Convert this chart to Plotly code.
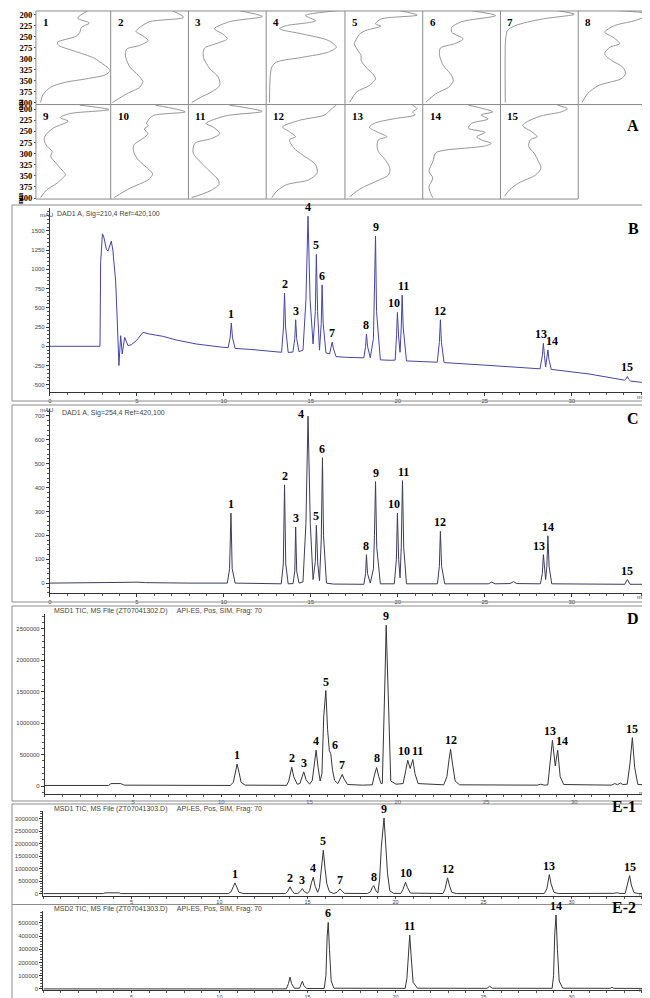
import plotly.graph_objects as go

FIG_W, FIG_H = 650, 998

# ---------------- Panel A : UV spectra (wavelength nm, relative absorbance) ----------------
s1_wl = [191, 208, 219, 229, 240, 249, 263, 270, 282, 299, 306, 323, 329, 337, 346, 355, 365, 383, 400]
s1_ab = [0.70, 0.56, 0.72, 0.61, 0.59, 0.54, 0.28, 0.30, 0.50, 0.79, 0.85, 0.99, 1.0, 0.94, 0.68, 0.36, 0.19, 0.08, 0.05]
s2_wl = [191, 206, 216, 229, 238, 248, 259, 270, 278, 289, 300, 319, 338, 352, 365, 380, 400]
s2_ab = [0.80, 0.95, 0.50, 0.37, 0.32, 0.41, 0.48, 0.37, 0.20, 0.18, 0.19, 0.24, 0.35, 0.41, 0.37, 0.20, 0.01]
s3_wl = [191, 204, 216, 232, 244, 255, 266, 276, 289, 300, 323, 342, 361, 376, 387, 400]
s3_ab = [0.66, 0.96, 0.53, 0.33, 0.44, 0.50, 0.35, 0.20, 0.18, 0.19, 0.27, 0.38, 0.40, 0.29, 0.16, 0.03]
s4_wl = [191, 202, 214, 225, 232, 244, 259, 274, 285, 297, 308, 319, 338, 400]
s4_ab = [0.92, 0.50, 0.63, 0.25, 0.16, 0.46, 0.80, 0.90, 0.80, 0.46, 0.12, 0.06, 0.04, 0.03]
s5_wl = [191, 201, 210, 221, 226, 236, 244, 255, 266, 282, 293, 304, 319, 338, 346, 361, 376, 399]
s5_ab = [0.71, 0.94, 0.46, 0.39, 0.46, 0.26, 0.18, 0.14, 0.11, 0.16, 0.20, 0.20, 0.26, 0.37, 0.39, 0.31, 0.14, 0.05]
s6_wl = [191, 202, 216, 229, 240, 255, 266, 276, 293, 316, 334, 350, 365, 380, 399]
s6_ab = [0.63, 0.95, 0.50, 0.37, 0.37, 0.52, 0.41, 0.22, 0.21, 0.26, 0.35, 0.39, 0.33, 0.16, 0.03]
s7_wl = [191, 199, 210, 225, 236, 248, 270, 400]
s7_ab = [0.74, 0.96, 0.53, 0.18, 0.08, 0.06, 0.05, 0.05]
s8_wl = [191, 199, 214, 225, 240, 251, 266, 274, 289, 304, 319, 334, 346, 361, 380, 399]
s8_ab = [0.52, 0.95, 0.73, 0.47, 0.34, 0.45, 0.54, 0.41, 0.34, 0.43, 0.58, 0.62, 0.56, 0.26, 0.11, 0.04]
s9_wl = [191, 201, 210, 219, 227, 242, 258, 269, 284, 295, 306, 325, 340, 347, 366, 381, 399]
s9_ab = [0.59, 0.99, 0.45, 0.32, 0.43, 0.23, 0.12, 0.10, 0.14, 0.21, 0.19, 0.28, 0.36, 0.39, 0.28, 0.14, 0.05]
s10_wl = [191, 206, 215, 232, 237, 245, 255, 266, 281, 296, 314, 337, 346, 359, 378, 399]
s10_ab = [0.58, 0.97, 0.54, 0.46, 0.48, 0.43, 0.48, 0.41, 0.29, 0.29, 0.35, 0.50, 0.54, 0.48, 0.24, 0.03]
s11_wl = [191, 205, 215, 232, 240, 255, 266, 277, 299, 318, 340, 359, 369, 384, 399]
s11_ab = [0.53, 0.96, 0.48, 0.22, 0.31, 0.40, 0.29, 0.07, 0.05, 0.14, 0.27, 0.38, 0.39, 0.27, 0.03]
s12_wl = [191, 202, 213, 225, 240, 251, 262, 269, 288, 303, 325, 344, 359, 370, 385, 399]
s12_ab = [0.90, 0.82, 0.75, 0.42, 0.20, 0.29, 0.37, 0.29, 0.35, 0.46, 0.63, 0.65, 0.54, 0.25, 0.12, 0.06]
s13_wl = [191, 199, 206, 213, 221, 232, 241, 251, 262, 269, 281, 296, 314, 333, 348, 363, 378, 397]
s13_ab = [0.88, 0.94, 0.88, 0.91, 0.65, 0.37, 0.31, 0.41, 0.54, 0.43, 0.41, 0.43, 0.52, 0.58, 0.56, 0.39, 0.20, 0.05]
s14_wl = [191, 206, 213, 222, 232, 243, 252, 262, 269, 277, 283, 292, 298, 318, 340, 355, 374, 389, 399]
s14_ab = [0.59, 0.91, 0.76, 0.85, 0.63, 0.59, 0.81, 0.70, 0.76, 0.89, 0.80, 0.29, 0.16, 0.12, 0.07, 0.12, 0.07, 0.09, 0.12]
s15_wl = [191, 199, 206, 215, 228, 237, 251, 262, 269, 284, 299, 318, 333, 348, 366, 381, 396]
s15_ab = [0.74, 0.87, 0.79, 0.53, 0.34, 0.28, 0.40, 0.47, 0.38, 0.36, 0.43, 0.49, 0.52, 0.45, 0.23, 0.11, 0.04]
wl_ticks = [200, 225, 250, 275, 300, 325, 350, 375, 400]

# ---------------- Panel B : DAD 210 nm (min, mAU) ----------------
b_time = [0, 2.88, 2.92, 3.02, 3.1, 3.25, 3.34, 3.45, 3.53, 3.62,
          3.72, 3.78, 3.86, 3.93, 3.97, 4.02, 4.07, 4.16, 4.3, 4.49,
          4.68, 4.97, 5.35, 5.73, 6.49, 7.26, 8.41, 9.93, 10.25, 10.36,
          10.43, 10.5, 10.65, 11.5, 12.5, 13.32, 13.43, 13.49, 13.55, 13.7,
          13.97, 14.08, 14.13, 14.19, 14.32, 14.55, 14.72, 14.84, 14.96, 15.13,
          15.26, 15.32, 15.39, 15.5, 15.6, 15.65, 15.71, 15.87, 16.08, 16.18,
          16.23, 16.29, 16.45, 17.2, 18.05, 18.15, 18.2, 18.26, 18.42, 18.6,
          18.66, 18.72, 18.78, 19.0, 19.6, 19.85, 19.93, 19.98, 20.05, 20.13,
          20.2, 20.25, 20.31, 20.5, 21.5, 22.27, 22.39, 22.45, 22.51, 22.66,
          25.0, 28.18, 28.31, 28.37, 28.43, 28.5, 28.57, 28.63, 28.69, 28.82,
          31.0, 33.03, 33.14, 33.2, 33.26, 33.38, 34.73]
b_mau = [0, 0, 1100, 1461, 1420, 1260, 1237, 1330, 1366, 1250,
         1000, 849, 418, -99, -250, -50, 138, -99, 116, 9,
         20, 73, 181, 159, 130, 82, 30, -13, -18, 110,
         302, 110, -28, -40, -60, -78, 250, 690, 250, -80,
         -75, 100, 345, 100, -70, -50, 600, 1690, 600, 30,
         450, 1194, 450, -50, 300, 798, 300, -85, -100, -20,
         55, -20, -135, -145, -150, 0, 160, 0, -150, 100,
         720, 1431, 450, -177, -182, -180, 150, 440, 120, -78,
         250, 664, 250, -190, -200, -207, 50, 345, 50, -212,
         -245, -293, -120, 39, -120, -270, -150, -47, -170, -300,
         -360, -440, -420, -392, -425, -452, -487]
b_yticks = [-500, -250, 0, 250, 500, 750, 1000, 1250, 1500]
b_pk_id = ["1", "2", "3", "4", "5", "6", "7", "8", "9", "10", "11", "12", "13", "14", "15"]
b_pk_t = [10.43, 13.49, 14.13, 14.84, 15.32, 15.65, 16.23, 18.2, 18.72, 19.98, 20.25, 22.45, 28.37, 28.63, 33.2]
b_pk_y = [302, 690, 345, 1690, 1194, 798, 55, 160, 1431, 440, 664, 345, 39, -47, -392]

# ---------------- Panel C : DAD 254 nm (min, mAU) ----------------
c_time = [0, 3.5, 4.2, 5.0, 5.5, 8.0, 10.2, 10.33, 10.41, 10.48,
          10.65, 13.3, 13.42, 13.49, 13.56, 13.7, 13.98, 14.08, 14.13, 14.19,
          14.32, 14.55, 14.72, 14.84, 14.97, 15.13, 15.26, 15.32, 15.4, 15.5,
          15.6, 15.67, 15.73, 15.9, 16.3, 18.05, 18.15, 18.2, 18.26, 18.42,
          18.6, 18.66, 18.72, 18.79, 19.0, 19.8, 19.92, 19.98, 20.05, 20.13,
          20.2, 20.27, 20.34, 20.5, 22.28, 22.39, 22.45, 22.52, 22.7, 25.2,
          25.4, 25.6, 26.45, 26.65, 26.85, 28.2, 28.31, 28.37, 28.44, 28.5,
          28.57, 28.63, 28.7, 28.85, 33.05, 33.2, 33.35, 34.05, 34.2, 34.35,
          34.73]
c_mau = [0, 0, 3, 4, 2, 0, 0, 60, 293, 60,
         0, -3, 80, 411, 80, -3, -2, 50, 235, 50,
         0, 5, 250, 699, 250, 15, 90, 242, 80, 10,
         180, 525, 200, 0, -4, -5, 40, 119, 40, 0,
         60, 200, 425, 150, -3, -3, 100, 293, 100, 22,
         150, 429, 150, -3, -3, 70, 217, 70, -3, -3,
         4, -3, -2, 6, -2, -3, 40, 119, 40, 15,
         70, 198, 70, -3, -5, 15, -5, -5, 5, -5,
         -6]
c_yticks = [0, 100, 200, 300, 400, 500, 600, 700]
c_pk_id = ["1", "2", "3", "4", "5", "6", "8", "9", "10", "11", "12", "13", "14", "15"]
c_pk_t = [10.41, 13.49, 14.13, 14.84, 15.32, 15.67, 18.2, 18.72, 19.98, 20.27, 22.45, 28.37, 28.63, 33.2]
c_pk_y = [293, 411, 235, 699, 242, 525, 119, 425, 293, 429, 217, 119, 198, 15]

# ---------------- Panel D : MSD1 TIC (min, counts) ----------------
d_time = [0, 3.6, 3.75, 4.3, 4.5, 10.5, 10.68, 10.78, 10.89, 11.0,
          11.12, 11.35, 13.7, 13.82, 13.9, 13.99, 14.1, 14.3, 14.45, 14.55,
          14.67, 14.8, 15.0, 15.15, 15.27, 15.37, 15.48, 15.6, 15.7, 15.8,
          15.92, 16.02, 16.12, 16.2, 16.3, 16.42, 16.6, 16.75, 16.85, 16.96,
          17.15, 18.0, 18.55, 18.68, 18.8, 18.92, 19.05, 19.12, 19.2, 19.28,
          19.34, 19.42, 19.5, 19.6, 19.9, 20.3, 20.45, 20.56, 20.7, 20.85,
          20.97, 21.15, 22.6, 22.78, 22.9, 22.99, 23.1, 23.25, 23.5, 27.9,
          28.1, 28.3, 28.5, 28.62, 28.76, 28.92, 29.06, 29.2, 29.4, 32.1,
          32.3, 32.45, 32.6, 32.75, 33.0, 33.15, 33.29, 33.42, 33.6, 34.63]
d_tic = [10000, 10000, 40000, 40000, 15000, 10000, 60000, 220000, 350000, 220000,
         60000, 15000, 12000, 80000, 200000, 300000, 150000, 30000, 40000, 130000,
         227000, 100000, 30000, 90000, 380000, 570000, 300000, 80000, 200000, 1100000,
         1519000, 900000, 560000, 517000, 250000, 90000, 40000, 120000, 185000, 110000,
         25000, 15000, 20000, 180000, 296000, 150000, 40000, 40000, 800000, 1800000,
         2558000, 1700000, 700000, 80000, 30000, 40000, 250000, 411000, 280000, 422000,
         200000, 40000, 20000, 150000, 420000, 585000, 350000, 80000, 20000, 15000,
         30000, 15000, 20000, 350000, 728000, 321000, 570000, 150000, 25000, 15000,
         40000, 20000, 50000, 25000, 30000, 350000, 770000, 300000, 25000, 15000]
d_yticks = [0, 500000, 1000000, 1500000, 2000000, 2500000]
d_pk_id = ["1", "2", "3", "4", "5", "6", "7", "8", "9", "10", "11", "12", "13", "14", "15"]
d_pk_t = [10.89, 13.99, 14.67, 15.37, 15.92, 16.2, 16.85, 18.8, 19.34, 20.56, 20.85, 22.99, 28.76, 29.06, 33.29]
d_pk_y = [350000, 300000, 227000, 570000, 1519000, 517000, 185000, 296000, 2558000, 411000, 422000, 585000, 728000, 570000, 770000]

# ---------------- Panel E-1 : MSD1 TIC (min, counts) ----------------
e1_time = [0, 3.4, 3.5, 4.3, 4.4, 10.5, 10.66, 10.77, 10.88, 10.99,
           11.1, 11.35, 13.75, 13.86, 13.93, 14.01, 14.1, 14.25, 14.45, 14.58,
           14.71, 14.82, 15.0, 15.12, 15.23, 15.33, 15.44, 15.58, 15.68, 15.8,
           15.9, 16.0, 16.1, 16.25, 16.5, 16.68, 16.77, 16.85, 16.95, 17.1,
           18.4, 18.58, 18.68, 18.77, 18.87, 19.0, 19.1, 19.2, 19.35, 19.45,
           19.55, 19.68, 19.9, 20.3, 20.43, 20.57, 20.68, 20.85, 22.7, 22.82,
           22.9, 22.96, 23.06, 23.2, 23.45, 28.45, 28.6, 28.68, 28.74, 28.84,
           29.0, 29.25, 32.0, 32.2, 32.4, 32.6, 32.75, 33.05, 33.18, 33.3,
           33.4, 33.55, 33.8, 34.8]
e1_tic = [10000, 10000, 40000, 40000, 10000, 10000, 80000, 280000, 438000, 270000,
          70000, 12000, 10000, 80000, 180000, 279000, 150000, 20000, 15000, 90000,
          211000, 90000, 20000, 120000, 450000, 661000, 300000, 60000, 250000, 1200000,
          1737000, 1000000, 400000, 80000, 15000, 60000, 150000, 199000, 120000, 20000,
          12000, 80000, 250000, 331000, 150000, 30000, 600000, 1900000, 3028000, 2000000,
          800000, 120000, 20000, 15000, 180000, 462000, 250000, 30000, 12000, 200000,
          480000, 637000, 350000, 60000, 12000, 12000, 200000, 600000, 769000, 400000,
          60000, 12000, 12000, 35000, 20000, 45000, 15000, 20000, 400000, 729000,
          350000, 50000, 12000, 12000]
e1_yticks = [0, 500000, 1000000, 1500000, 2000000, 2500000, 3000000]
e1_pk_id = ["1", "2", "3", "4", "5", "7", "8", "9", "10", "12", "13", "15"]
e1_pk_t = [10.88, 14.01, 14.71, 15.33, 15.9, 16.85, 18.77, 19.35, 20.57, 22.96, 28.74, 33.3]
e1_pk_y = [438000, 279000, 211000, 661000, 1737000, 199000, 331000, 3028000, 462000, 637000, 769000, 729000]

# ---------------- Panel E-2 : MSD2 TIC (min, counts) ----------------
e2_time = [0, 3.4, 3.5, 4.3, 4.4, 13.8, 13.92, 14.01, 14.1, 14.25,
           14.55, 14.64, 14.71, 14.8, 14.95, 15.95, 16.05, 16.12, 16.18, 16.25,
           16.35, 16.5, 20.55, 20.65, 20.73, 20.81, 20.89, 21.0, 21.25, 25.2,
           25.35, 25.5, 28.9, 28.98, 29.05, 29.12, 29.2, 29.3, 29.5, 32.2,
           32.3, 32.4, 34.8]
e2_tic = [0, 0, 4000, 4000, 0, 0, 40000, 89000, 40000, 5000,
          5000, 30000, 58000, 25000, 3000, 3000, 100000, 400000, 504000, 300000,
          60000, 5000, 4000, 80000, 300000, 408000, 250000, 50000, 5000, 4000,
          20000, 5000, 4000, 100000, 420000, 560000, 300000, 60000, 5000, 4000,
          12000, 4000, 3000]
e2_yticks = [0, 100000, 200000, 300000, 400000, 500000]
e2_pk_id = ["6", "11", "14"]
e2_pk_t = [16.18, 20.81, 29.12]
e2_pk_y = [504000, 408000, 560000]

bc_xticks = [0, 5, 10, 15, 20, 25, 30]
ms_xticks = [5, 10, 15, 20, 25, 30]

# ---------------- helpers (pixel -> paper) ----------------
def px(x):
    return x / FIG_W


def py(y):
    return 1 - y / FIG_H


def axkey(i, k):
    return f"{k}axis" if i == 1 else f"{k}axis{i}"


def aref(i, k):
    return k if i == 1 else f"{k}{i}"


SERIF = "Liberation Serif, Times New Roman, serif"
SANS = "Liberation Sans, Arial, sans-serif"
AXC = "#333333"

fig = go.Figure()
layout = dict(width=FIG_W, height=FIG_H, margin=dict(l=0, r=0, t=0, b=0),
              paper_bgcolor="white", plot_bgcolor="white", showlegend=False)
annotations = []
shapes = []


def chrom_x(dom, rng, ticks, n, tlen, fs):
    return dict(domain=[px(dom[0]), px(dom[1])], range=rng, anchor=aref(n, "y"),
                showline=True, linecolor=AXC, linewidth=1, mirror=False,
                ticks="outside", ticklen=tlen, tickwidth=1, tickcolor=AXC,
                tickvals=ticks, ticktext=[str(v) for v in ticks],
                tickfont=dict(family=SANS, size=fs, color="#444"),
                minor=dict(ticks="outside", ticklen=2, dtick=1, tick0=0, tickcolor="#555"),
                showgrid=False, zeroline=False, fixedrange=True)


def chrom_y(dom, rng, ticks, minor, n):
    return dict(domain=[py(dom[1]), py(dom[0])], range=rng, anchor=aref(n, "x"),
                showline=True, linecolor=AXC, linewidth=1,
                ticks="outside", ticklen=3, tickwidth=1, tickcolor=AXC,
                tickvals=ticks, ticktext=[str(v) for v in ticks],
                tickfont=dict(family=SANS, size=6, color="#444"),
                minor=dict(ticks="outside", ticklen=2, dtick=minor, tick0=0, tickcolor="#555"),
                showgrid=False, zeroline=False, fixedrange=True)


panels = [
    (1, b_time, b_mau, (40, 646), (200, 385), [0, 34.73], [-595, 1797], b_yticks, 50, bc_xticks, "#4545a5", 3, 6,
     b_pk_id, b_pk_t, b_pk_y, [0, 0, 0, 0, 0, 0, 0, 0, 0, -3, 1, 0, -2, 4, 0], [0] * 15),
    (2, c_time, c_mau, (40, 646), (402, 587), [0, 34.73], [-41.7, 729], c_yticks, 20, bc_xticks, "#3c3c5c", 3, 6,
     c_pk_id, c_pk_t, c_pk_y, [0, 0, 0, -7, 0, 0, 0, 0, -3, 1, 0, -4, 0, 0], [0, 0, 0, -7, 0, 0, 0, 0, 0, 0, 0, 0, 0, 0]),
    (3, d_time, d_tic, (35, 648), (608, 789), [0, 34.63], [-126600, 2737000], d_yticks, 100000, ms_xticks, "#363636", 2, 6,
     d_pk_id, d_pk_t, d_pk_y, [0, 0, 0, 0, 0, 4, 0, 0, 0, -4, 5, 0, -2, 4, 0], [0] * 15),
    (4, e1_time, e1_tic, (33.5, 648), (806, 891), [0, 34.8], [-67700, 3306800], e1_yticks, 100000, ms_xticks, "#363636", 1, 5.5,
     e1_pk_id, e1_pk_t, e1_pk_y, [0] * 12, [0] * 12),
    (5, e2_time, e2_tic, (33.5, 648), (907, 986), [0, 34.8], [-9000, 587000], e2_yticks, 20000, ms_xticks, "#363636", 1, 5.5,
     e2_pk_id, e2_pk_t, e2_pk_y, [0] * 3, [0] * 3),
]

for (n, tt, yy, xd, yd, xr, yr, yt, mn, xt, col, tl, fs, ids, pt, pv, xs, ys) in panels:
    fig.add_trace(go.Scatter(x=tt, y=yy, mode="lines", xaxis=aref(n, "x"), yaxis=aref(n, "y"),
                             line=dict(color=col, width=1), hoverinfo="skip"))
    layout[axkey(n, "x")] = chrom_x(xd, xr, xt, n, tl, fs)
    layout[axkey(n, "y")] = chrom_y(yd, yr, yt, mn, n)
    for lab, t, v, dx, dy in zip(ids, pt, pv, xs, ys):
        annotations.append(dict(x=t, y=v, xref=aref(n, "x"), yref=aref(n, "y"), text=f"<b>{lab}</b>",
                                showarrow=False, yanchor="bottom", xanchor="center", xshift=dx, yshift=dy,
                                font=dict(family=SERIF, size=12, color="black")))

# ---------------- Panel A axes ----------------
spectra = [(s1_wl, s1_ab), (s2_wl, s2_ab), (s3_wl, s3_ab), (s4_wl, s4_ab), (s5_wl, s5_ab),
           (s6_wl, s6_ab), (s7_wl, s7_ab), (s8_wl, s8_ab), (s9_wl, s9_ab), (s10_wl, s10_ab),
           (s11_wl, s11_ab), (s12_wl, s12_ab), (s13_wl, s13_ab), (s14_wl, s14_ab), (s15_wl, s15_ab)]
cell_x = [26, 101, 179, 257, 336, 414, 492, 570, 647]
rows = [(2, 96, [404.5, 191.6]), (96, 191, [402.2, 189.5])]

for k, (wl, ab) in enumerate(spectra):
    n = 6 + k
    row = 0 if k < 8 else 1
    col = k if k < 8 else k - 8
    y0, y1, yrng = rows[row]
    fig.add_trace(go.Scatter(x=ab, y=wl, mode="lines", xaxis=aref(n, "x"), yaxis=aref(n, "y"),
                             line=dict(color="#8a8a8a", width=0.9, shape="spline", smoothing=0.8),
                             hoverinfo="skip"))
    layout[axkey(n, "x")] = dict(domain=[px(cell_x[col] + 1), px(cell_x[col + 1] - 1)], range=[0, 1.0],
                                 anchor=aref(n, "y"), visible=False, fixedrange=True)
    first = (col == 0)
    layout[axkey(n, "y")] = dict(domain=[py(y1), py(y0)], range=yrng, anchor=aref(n, "x"),
                                 showline=False, showgrid=False, zeroline=False, fixedrange=True,
                                 showticklabels=first, ticks="outside" if first else "",
                                 ticklen=2, tickcolor="#555",
                                 tickvals=wl_ticks, ticktext=[str(v) for v in wl_ticks],
                                 tickfont=dict(family=SERIF, size=8.5, color="black", weight="bold"))
    annotations.append(dict(x=px(cell_x[col] + 5), y=py(y0 + 3), xref="paper", yref="paper",
                            text=f"<b>{k + 1}</b>", showarrow=False, xanchor="left", yanchor="top",
                            font=dict(family=SERIF, size=11, color="black")))

# "nm" axis titles
for yy in (89, 183):
    annotations.append(dict(x=px(4), y=py(yy), xref="paper", yref="paper", text="<b>nm</b>",
                            textangle=-90, showarrow=False, font=dict(family=SERIF, size=8, color="black")))

# grid of panel A
line_style = dict(color="#8c8c8c", width=1)
for (yy, xa, xb) in [(2, 26, 647), (96, 26, 647), (191, 26, 570)]:
    shapes.append(dict(type="line", xref="paper", yref="paper", x0=px(xa), x1=px(xb), y0=py(yy), y1=py(yy), line=line_style))
for xx in cell_x:
    shapes.append(dict(type="line", xref="paper", yref="paper", x0=px(xx), x1=px(xx), y0=py(2), y1=py(96), line=line_style))
for xx in cell_x[:-1]:
    shapes.append(dict(type="line", xref="paper", yref="paper", x0=px(xx), x1=px(xx), y0=py(96), y1=py(191), line=line_style))

# chromatogram frames
for (x0, y0, x1, y1) in [(2, 197, 648, 394), (2, 398, 648, 596), (2, 600, 648, 796), (2, 799, 648, 997)]:
    shapes.append(dict(type="rect", xref="paper", yref="paper", x0=px(x0), x1=px(x1), y0=py(y1), y1=py(y0),
                       line=line_style, fillcolor="rgba(0,0,0,0)"))
shapes.append(dict(type="line", xref="paper", yref="paper", x0=px(2), x1=px(648), y0=py(900), y1=py(900), line=line_style))

# panel letters
for (txt, xx, yy) in [("A", 633, 107), ("B", 633, 210), ("C", 633, 412), ("D", 633, 613), ("E-1", 630, 812), ("E-2", 630, 914)]:
    annotations.append(dict(x=px(xx), y=py(yy), xref="paper", yref="paper", text=f"<b>{txt}</b>", showarrow=False,
                            font=dict(family=SERIF, size=16, color="black")))

# panel headers
headers = [("DAD1 A, Sig=210,4 Ref=420,100", 45, 206),
           ("DAD1 A, Sig=254,4 Ref=420,100", 50, 406),
           ("MSD1 TIC, MS File (ZT07041302.D)     API-ES, Pos, SIM, Frag: 70", 42, 605),
           ("MSD1 TIC, MS File (ZT07041303.D)     API-ES, Pos, SIM, Frag: 70", 42, 804),
           ("MSD2 TIC, MS File (ZT07041303.D)     API-ES, Pos, SIM, Frag: 70", 42, 905)]
for (txt, xx, yy) in headers:
    annotations.append(dict(x=px(xx), y=py(yy), xref="paper", yref="paper", text=txt, showarrow=False,
                            xanchor="left", yanchor="middle", font=dict(family=SANS, size=7, color="#444")))

# unit labels
for (txt, xx, yy) in [("mAU", 28, 202), ("mAU", 28, 403), ("min", 641, 390), ("min", 641, 591),
                      ("min", 643, 793), ("min", 643, 894), ("min", 643, 991)]:
    annotations.append(dict(x=px(xx), y=py(yy), xref="paper", yref="paper", text=txt, showarrow=False,
                            font=dict(family=SANS, size=6, color="#444")))

layout["annotations"] = annotations
layout["shapes"] = shapes
fig.update_layout(**layout)
fig.write_html("out.html")
